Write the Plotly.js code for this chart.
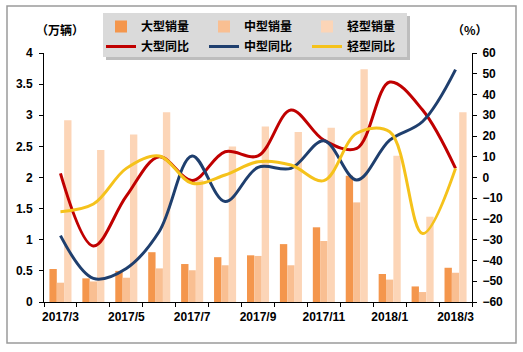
<!DOCTYPE html>
<html><head><meta charset="utf-8">
<script src="https://cdn.plot.ly/plotly-3.0.1.min.js"></script>
<style>html,body{margin:0;padding:0;background:#fff}#chart{width:523px;height:352px}</style>
</head><body><div id="chart"></div>
<script>
const months = ['2017/3','2017/4','2017/5','2017/6','2017/7','2017/8','2017/9','2017/10','2017/11','2017/12','2018/1','2018/2','2018/3'];
const tickLabels = ['2017/3','2017/5','2017/7','2017/9','2017/11','2018/1','2018/3'];
const largeSales  = [0.53,0.38,0.50,0.80,0.61,0.72,0.75,0.93,1.20,2.03,0.45,0.25,0.55];
const mediumSales = [0.31,0.33,0.39,0.54,0.51,0.59,0.74,0.59,0.98,1.60,0.36,0.16,0.47];
const lightSales  = [2.92,2.44,2.69,3.05,1.96,2.50,2.82,2.73,2.80,3.74,2.35,1.37,3.05];
const largeYoY  = [2,-33,-9,10,-1.5,12.4,10.4,32.5,18,14,46,32.5,4.4];
const mediumYoY = [-28,-48.6,-43.8,-26,10.4,-11.6,4.9,4.4,17.7,-1.2,18,27,52];
const lightYoY  = [-16.5,-12.8,4.4,10.4,-2.8,1.2,7.6,6,-1.5,21.3,22,-27,4.4];

const xs = months.map((m,i)=>i);
const tickVals = tickLabels.map(t=>months.indexOf(t));
const FONT = 'Liberation Sans, Arial, Noto Sans CJK SC, sans-serif';

const bar = (name, y, color) => ({type:'bar', name, x:xs, y, marker:{color}, legend:'legend', hoverinfo:'skip'});
const line = (name, y, color) => ({type:'scatter', mode:'lines', name, x:xs, y, yaxis:'y2', legend:'legend2',
  line:{color, width:3, shape:'spline', smoothing:1}});

const data = [
  bar('大型销量', largeSales, '#F4964C'),
  bar('中型销量', mediumSales, '#F9BF92'),
  bar('轻型销量', lightSales, '#FCD5B7'),
  line('大型同比', largeYoY, '#C00000'),
  line('中型同比', mediumYoY, '#1F3F6E'),
  line('轻型同比', lightYoY, '#F5C21B')
];

const px = v => (v-44)/428;
const py = v => (302-v)/249;

const layout = {
  width:523, height:352,
  margin:{l:44, r:51, t:53, b:50},
  paper_bgcolor:'#fff', plot_bgcolor:'rgba(0,0,0,0)',
  font:{family:FONT, size:12, color:'#000', weight:700},
  barmode:'group', bargap:0.33, bargroupgap:0,
  xaxis:{range:[-0.5,12.5], tickmode:'array', tickvals:tickVals, ticktext:tickLabels,
    ticks:'', showline:true, linecolor:'#000', linewidth:1, showgrid:false, zeroline:false, ticklabelstandoff:4,
    tickfont:{family:FONT, size:12, weight:700},
    minor:{tickmode:'array', tickvals:months.map((m,i)=>i-0.5).concat([12.5]), ticks:'outside', ticklen:4, tickcolor:'#000', showgrid:false}},
  yaxis:{range:[0,4], dtick:0.5, ticks:'outside', ticklen:4, tickcolor:'#000', showline:true, linecolor:'#000',
    showgrid:false, zeroline:false, ticklabelstandoff:4, tickfont:{family:FONT, size:12, weight:700}},
  yaxis2:{range:[-60,60], dtick:10, overlaying:'y', side:'right', ticks:'outside', ticklen:4, tickcolor:'#000',
    showline:true, linecolor:'#000', showgrid:false, zeroline:false, ticklabelstandoff:3, tickfont:{family:FONT, size:12, weight:700}},
  legend:{orientation:'h', x:px(101), y:py(12), xanchor:'left', yanchor:'top', bgcolor:'rgba(0,0,0,0)',
    entrywidth:58, entrywidthmode:'pixels', font:{family:FONT, size:12, weight:700}},
  legend2:{orientation:'h', x:px(101), y:py(32), xanchor:'left', yanchor:'top', bgcolor:'rgba(0,0,0,0)',
    entrywidth:58, entrywidthmode:'pixels', font:{family:FONT, size:12, weight:700}},
  shapes:[
    {type:'rect', xref:'paper', yref:'paper', x0:px(106), x1:px(410), y0:py(60), y1:py(16), fillcolor:'#bdbdbd', line:{width:0}, layer:'above'},
    {type:'rect', xref:'paper', yref:'paper', x0:px(103), x1:px(407), y0:py(57), y1:py(13), fillcolor:'#dadada', line:{width:0}, layer:'above'},
    {type:'rect', xref:'paper', yref:'paper', x0:px(7), x1:px(516), y0:py(343), y1:py(6), line:{color:'#9a9a9a', width:1.5}, layer:'above'}
  ],
  annotations:[
    {text:'（万辆）', xref:'paper', yref:'paper', x:px(34), y:py(19), showarrow:false, font:{family:'Noto Sans CJK SC', size:12, weight:700}},
    {text:'（%）', xref:'paper', yref:'paper', x:px(490), y:py(19), showarrow:false, font:{family:'Noto Sans CJK SC', size:12, weight:700}}
  ]
};

Plotly.newPlot('chart', data, layout, {displayModeBar:false, staticPlot:true});
</script>
</body></html>
